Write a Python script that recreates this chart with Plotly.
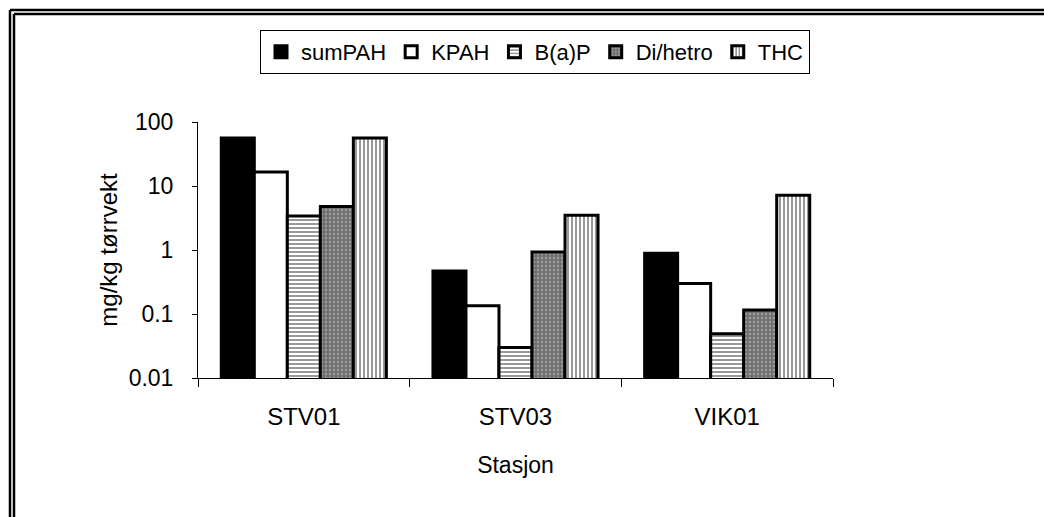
import plotly.graph_objects as go

stations = ["STV01", "STV03", "VIK01"]
sum_pah = [56, 0.47, 0.89]
kpah = [16.5, 0.135, 0.30]
bap = [3.4, 0.03, 0.049]
di_hetro = [4.8, 0.93, 0.115]
thc = [56, 3.5, 7.2]

y_ticks = [0.01, 0.1, 1, 10, 100]
y_labels = ["0.01", "0.1", "1", "10", "100"]

# page body has an 8px margin, so the figure starts at (8, 8) on screen
OFF = 8
W, H = 1052 - OFF, 517 - OFF
# plot area in screen pixels: x 198..833, y 122..378
L, R, T, B = 198 - OFF, 1052 - 833, 122 - OFF, 517 - 378
pw, ph = W - L - R, H - T - B


def px_x(p):
    return (p - OFF - L) / pw


def px_y(p):
    return (H - B - (p - OFF)) / ph


series = [
    ("sumPAH", sum_pah, "black", "", None),
    ("KPAH", kpah, "white", "", None),
    ("B(a)P", bap, "white", "-", "#333333"),
    ("Di/hetro", di_hetro, "#9a9a9a", "+", "#222222"),
    ("THC", thc, "white", "|", "#333333"),
]

fig = go.Figure()
for name, vals, col, pat, fg in series:
    marker = dict(color=col, line=dict(color="black", width=3))
    if pat:
        marker["pattern"] = dict(shape=pat, fgcolor=fg, bgcolor=col,
                                 size=4, solidity=0.5)
    fig.add_trace(go.Bar(name=name, x=stations, y=vals, marker=marker))

font = "Liberation Sans, Arial, sans-serif"
fig.update_layout(
    width=W, height=H,
    margin=dict(l=L, r=R, t=T, b=B),
    paper_bgcolor="white", plot_bgcolor="white",
    barmode="group", bargap=0.22, bargroupgap=0,
    font=dict(family=font, size=22, color="black"),
    showlegend=True,
    legend=dict(orientation="h", x=px_x(535), y=px_y(30),
                xanchor="center", yanchor="top",
                bordercolor="black", borderwidth=1,
                font=dict(family=font, size=22, color="black"),
                itemwidth=30, tracegroupgap=0),
    xaxis=dict(showline=True, linecolor="black", linewidth=1,
               ticks="outside", ticklen=8, tickcolor="black",
               tickson="boundaries", showgrid=False,
               tickfont=dict(family=font, size=24, color="black"),
               ticklabelstandoff=17,
               title=dict(text="Stasjon", standoff=28,
                          font=dict(family=font, size=23, color="black"))),
    yaxis=dict(type="log", range=[-2, 2], showline=True, linecolor="black",
               linewidth=1, ticks="outside", ticklen=5, tickcolor="black",
               tickvals=y_ticks, ticktext=y_labels, showgrid=False,
               zeroline=False,
               tickfont=dict(family=font, size=23, color="black"),
               ticklabelstandoff=14,
               title=dict(text="mg/kg tørrvekt", standoff=4,
                          font=dict(family=font, size=24, color="black"))),
)

# double frame lines along top and left edges (screen px 10 and 14)
for p in (10, 14):
    fig.add_shape(type="line", xref="paper", yref="paper",
                  x0=px_x(p), x1=px_x(1052), y0=px_y(p), y1=px_y(p),
                  line=dict(color="black", width=2.5))
    fig.add_shape(type="line", xref="paper", yref="paper",
                  x0=px_x(p), x1=px_x(p), y0=px_y(p), y1=px_y(517),
                  line=dict(color="black", width=2.5))

fig.write_html("out.html")
